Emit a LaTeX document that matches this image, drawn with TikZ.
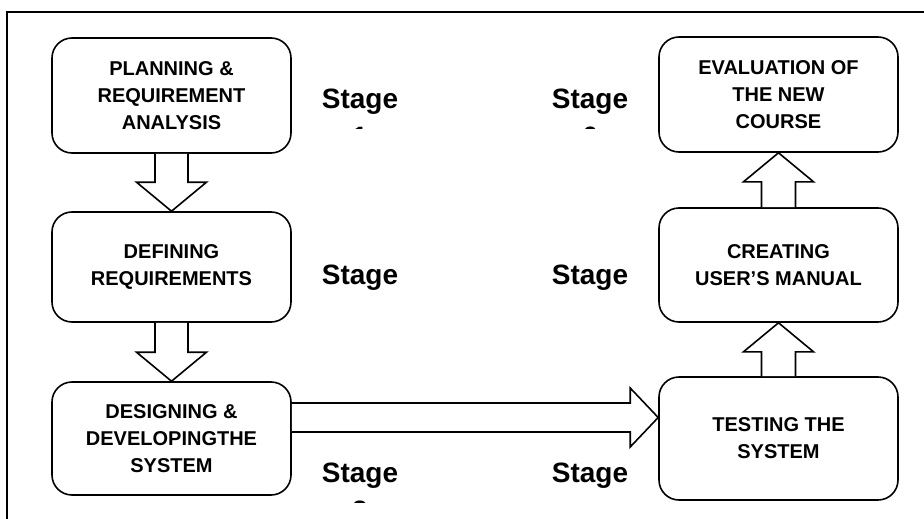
\documentclass[tikz,border=0pt]{standalone}
\usepackage{fontspec}
\setmainfont{Liberation Sans}
\usetikzlibrary{calc}

\tikzset{
  stagebox/.style={draw, line width=1.6pt, rounded corners=20pt, minimum width=239pt, inner sep=0pt, align=center, font=\fontsize{20}{27}\selectfont\bfseries},
  blockarrow/.style={draw, line width=1.6pt, fill=white, line join=miter},
  stagetext/.style={font=\fontsize{28}{32}\selectfont\bfseries, anchor=base}
}

\begin{document}
\begin{tikzpicture}[x=1pt,y=-1pt]
\useasboundingbox (0,0) rectangle (924,519);
\draw[line width=1.6pt] (7,519) -- (7,12) -- (924,12);

% left column
\node[stagebox, minimum height=115pt] (plan) at (171.5,95.5) {PLANNING \&\\REQUIREMENT\\ANALYSIS};
\node[stagebox, minimum height=110pt] (def) at (171.5,267) {DEFINING\\REQUIREMENTS};
\node[stagebox, minimum height=113pt] (design) at (171.5,438.5) {DESIGNING \&\\DEVELOPINGTHE\\SYSTEM};

% right column
\node[stagebox, minimum height=115pt] (eval) at (778.5,94.5) {EVALUATION OF\\THE NEW\\COURSE};
\node[stagebox, minimum height=114pt] (man) at (778.5,265) {CREATING\\USER’S MANUAL};
\node[stagebox, minimum height=123pt] (test) at (778.5,438.5) {TESTING THE\\SYSTEM};

% block arrows
\draw[blockarrow] ($(plan.south)+(-16.5,0)$) -- ($(def.north)+(-16.5,-29)$) -- ($(def.north)+(-35,-29)$) -- (def.north) -- ($(def.north)+(35,-29)$) -- ($(def.north)+(16.5,-29)$) -- ($(plan.south)+(16.5,0)$);
\draw[blockarrow] ($(def.south)+(-16.5,0)$) -- ($(design.north)+(-16.5,-29)$) -- ($(design.north)+(-35,-29)$) -- (design.north) -- ($(design.north)+(35,-29)$) -- ($(design.north)+(16.5,-29)$) -- ($(def.south)+(16.5,0)$);
\draw[blockarrow] ($(design.east)+(0,-35.5)$) -- ($(test.west)+(-28,-35.5)$) -- ($(test.west)+(-28,-50.5)$) -- ($(test.west)+(0,-21)$) -- ($(test.west)+(-28,8.5)$) -- ($(test.west)+(-28,-6.5)$) -- ($(design.east)+(0,-6.5)$);
\draw[blockarrow] ($(test.north)+(-17,0)$) -- ($(man.south)+(-17,29)$) -- ($(man.south)+(-35,29)$) -- (man.south) -- ($(man.south)+(35,29)$) -- ($(man.south)+(17,29)$) -- ($(test.north)+(17,0)$);
\draw[blockarrow] ($(man.north)+(-17,0)$) -- ($(eval.south)+(-17,29)$) -- ($(eval.south)+(-35,29)$) -- (eval.south) -- ($(eval.south)+(35,29)$) -- ($(eval.south)+(17,29)$) -- ($(man.north)+(17,0)$);

% stage labels
\node[stagetext] (st1) at (360,108) {Stage};
\node[stagetext] (st6) at (590,108) {Stage};
\node[stagetext] (st2) at (360,284) {Stage};
\node[stagetext] (st5) at (590,284) {Stage};
\node[stagetext] (st3) at (360,482) {Stage};
\node[stagetext] (st4) at (590,482) {Stage};
\begin{scope}
\clip (300,0) rectangle (650,128);
\node[stagetext] (n1) at (360,146) {1};
\node[stagetext] (n6) at (590,146) {6};
\end{scope}
\begin{scope}
\clip (300,470) rectangle (420,502);
\node[stagetext] (n3) at (360,520) {3};
\end{scope}
\end{tikzpicture}
\end{document}
